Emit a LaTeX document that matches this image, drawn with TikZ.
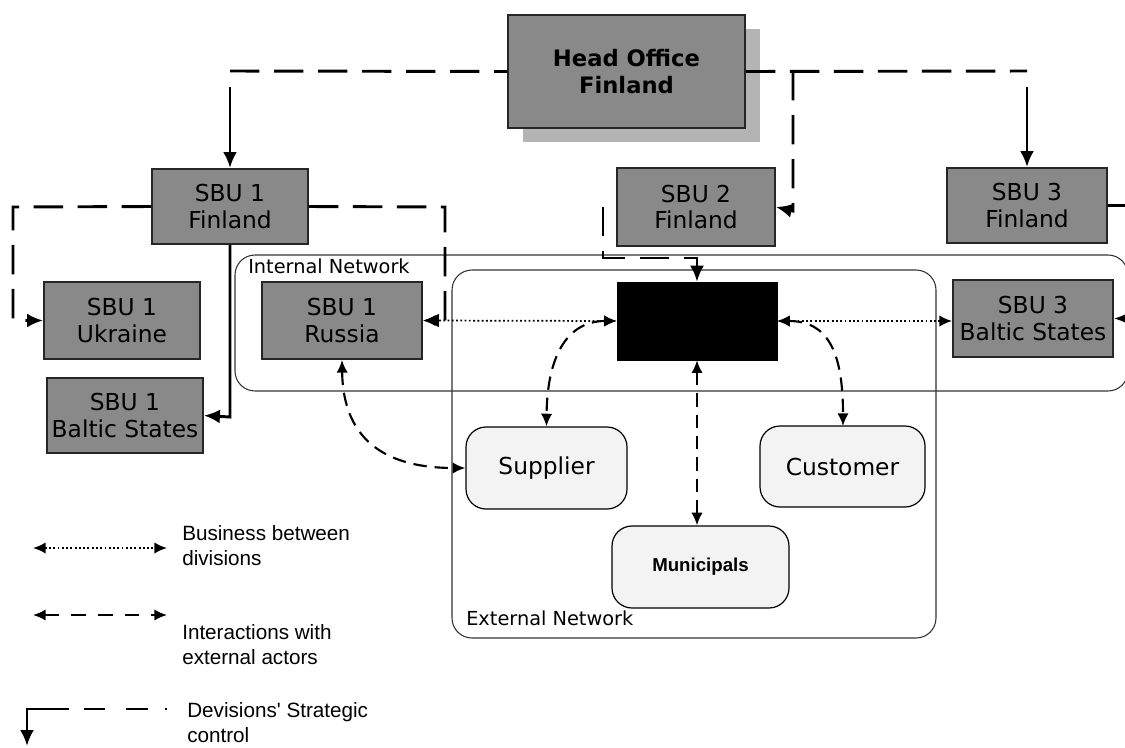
\documentclass[tikz,border=0pt]{standalone}
\usepackage{fontspec}
\setmainfont{DejaVu Sans}
\newfontfamily\arialfont{Liberation Sans}
\usetikzlibrary{arrows.meta,calc,shadows}

\definecolor{unitgray}{HTML}{898989}
\definecolor{shadowgray}{HTML}{B4B4B4}
\definecolor{actorfill}{HTML}{F3F3F3}

\begin{document}
\begin{tikzpicture}[x=0.75pt,y=-0.75pt,
  sz/.style 2 args={minimum width=#1*0.75pt, minimum height=#2*0.75pt},
  unit/.style={draw=black!85, line width=1.4pt, fill=unitgray, inner sep=0pt,
    align=center, font=\fontsize{17.5}{20}\selectfont},
  hq/.style={unit, font=\fontsize{17}{20}\selectfont\bfseries,
    drop shadow={shadow xshift=11pt, shadow yshift=-10.5pt, fill=shadowgray, opacity=1}},
  hidden/.style={draw=black, fill=black, inner sep=0pt},
  actor/.style={draw=black, line width=0.9pt, fill=actorfill, rounded corners=15pt,
    inner sep=0pt, align=center, font=\fontsize{17.5}{21}\selectfont},
  network/.style={draw=black!80, line width=0.8pt, rounded corners=15pt},
  netlabel/.style={anchor=base west, inner sep=0pt, font=\fontsize{14.5}{17}\selectfont},
  legendtext/.style={anchor=west, inner sep=0pt, align=left,
    font=\arialfont\fontsize{15.5}{18.75}\selectfont},
  bigtip/.style={-{Latex[length=12pt,width=10.5pt]}},
  ctrlrun/.style={line width=2.2pt, dash pattern=on 22pt off 11pt},
  ctrl/.style={ctrlrun, bigtip},
  ctrlsolid/.style={line width=2.2pt, bigtip},
  biz/.style={line width=1.3pt, dash pattern=on 1.4pt off 1.8pt,
    {Latex[length=9.5pt,width=8.5pt]}-{Latex[length=9.5pt,width=8.5pt]}},
  inter/.style={line width=1.6pt, dash pattern=on 10pt off 6pt,
    {Latex[length=9.5pt,width=8.5pt]}-{Latex[length=9.5pt,width=8.5pt]}},
]
\useasboundingbox (0,0) rectangle (1125,747);
\clip (0,0) rectangle (1125,747);

% network regions
\draw[network] (235,255) rectangle (1128,391);
\draw[network] (452,270) rectangle (936,638);
\node[netlabel] (intlab) at (248,273) {Internal Network};
\node[netlabel] (extlab) at (466,625) {External Network};

% head office and strategic business units
\node[hq, sz={237}{113}] (ho) at (626.5,71.5) {Head Office\\Finland};
\node[unit, sz={156}{75}] (fi1) at (230,206.5) {SBU 1\\Finland};
\node[unit, sz={158}{78}] (fi2) at (696,207) {SBU 2\\Finland};
\node[unit, sz={160}{75}] (fi3) at (1027,205.5) {SBU 3\\Finland};
\node[unit, sz={156}{77}] (ukr) at (122,320.5) {SBU 1\\Ukraine};
\node[unit, sz={160}{77}] (rus) at (342,320.5) {SBU 1\\Russia};
\node[unit, sz={156}{75}] (bal1) at (125,415.5) {SBU 1\\Baltic States};
\node[hidden, sz={160}{78}] (blk) at (697,321) {};
\node[unit, sz={160}{77}] (bal3) at (1033,318.5) {SBU 3\\Baltic States};

% external actors
\node[actor, sz={161}{82}] (sup) at (546.5,468) {Supplier};
\node[actor, sz={165}{81}] (cus) at (842.5,466.5) {Customer};
\node[actor, sz={177}{82}, font=\arialfont\bfseries\fontsize{14}{17}\selectfont] (mun) at (700.5,567) {Municipals};

% strategic control from the head office
\coordinate (hoL) at (230,71);
\coordinate (hoLv) at (230,87);
\coordinate (hoR) at (1027,71);
\coordinate (hoRv) at (1027,87);
\coordinate (hoM) at (793,71);
\coordinate (hoMb) at (793,211);
\draw[ctrlrun] (hoL) -- (ho.west);
\draw[ctrlsolid] (hoLv) -- (fi1.north);
\draw[ctrlrun] (ho.east) -- (hoR);
\draw[ctrlsolid] (hoRv) -- (fi3.north);
\draw[ctrl] (hoM) -- (hoMb) -- (fi2.east);

% strategic control within the divisions
\draw[ctrl] (fi1.west) -- (13,207) -- (13,320.5) -- (ukr.west);
\draw[ctrl] (fi1.east) -- (445,207) -- (445,320.5) -- (rus.east);
\draw[ctrlsolid] (fi1.south) -- (230,417) -- (bal1.east);
\coordinate (s2start) at (603,207);
\draw[ctrl] (s2start) -- (603,258) -- (697,258) -- (blk.north);
\draw[ctrlsolid] (fi3.east) -- (1140,205.5) -- (1140,318.5) -- (bal3.east);

% business between divisions
\draw[biz] (rus.east) -- (blk.west);
\draw[biz] (blk.east) -- (blk.east -| bal3.west);

% interactions with external actors
\coordinate (cusTop) at (843,426);
\draw[inter] (rus.south) .. controls (343,445) and (392,468) .. (sup.west);
\draw[inter] (blk.west) .. controls (565,321) and (547,360) .. (sup.north);
\draw[inter] (blk.east) .. controls (828,321) and (843,352) .. (cusTop);
\draw[inter] (blk.south) -- (blk.south |- mun.north);

% legend
\coordinate (la1) at (33,548);
\coordinate (la2) at (167,548);
\coordinate (lb1) at (33,615);
\coordinate (lb2) at (167,615);
\coordinate (lc1) at (167,709);
\coordinate (lc2) at (27,709);
\coordinate (lc3) at (27,746);
\draw[biz] (la1) -- (la2);
\draw[inter, dash pattern=on 11pt off 9pt] (lb1) -- (lb2);
\draw[line width=2.2pt, dash pattern=on 1.5pt off 13pt on 16pt off 16pt on 16pt off 11pt on 200pt,
  bigtip] (lc1) -- (lc2) -- (lc3);
\node[legendtext] (leg1) at (182,545.5) {Business between\\divisions};
\node[legendtext] (leg2) at (182,645) {Interactions with\\external actors};
\node[legendtext] (leg3) at (187,722.5) {Devisions' Strategic\\control};
\end{tikzpicture}
\end{document}
